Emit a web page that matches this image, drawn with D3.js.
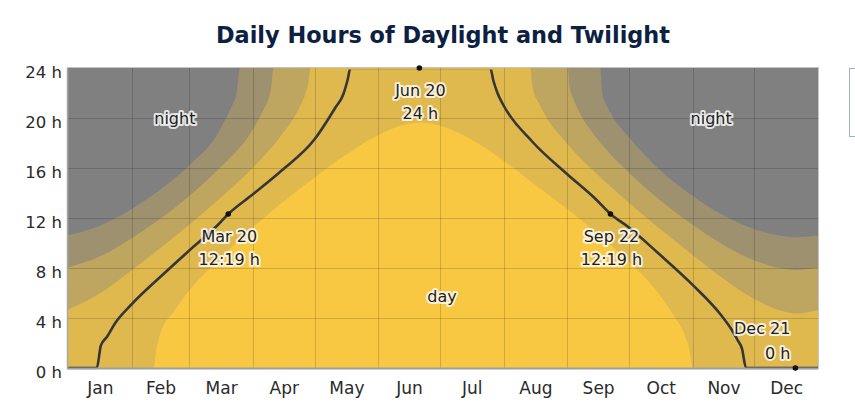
<!DOCTYPE html>
<html><head><meta charset="utf-8">
<script src="https://cdn.jsdelivr.net/npm/d3@7/dist/d3.min.js"></script>
<style>body{margin:0;background:#fff;overflow:hidden}</style>
</head><body><svg id="c" width="855" height="404"></svg>
<script>
// ---------- data (day of year 0 = Jan 1, hours) ----------
const months = ["Jan","Feb","Mar","Apr","May","Jun","Jul","Aug","Sep","Oct","Nov","Dec"];
const monthStartDays = [0,31,59,90,120,151,181,212,243,273,304,334,365];
const yTicks = [0,4,8,12,16,20,24];

// top of astronomical twilight band (sun above -18°)
const astroTop = [[0,10.62],[14,11.29],[31,12.73],[45,14.28],[59,16.21],[73,18.79],[78,20.36],[80,21.05],[82,21.95],[83.8,24],
  [259,24],[260,22.0],[262,21.05],[264,20.4],[273,18.46],[287,16.0],[304,13.77],[318,12.3],[334,11.11],[348,10.55],[354,10.46],[365,10.6]];
// top of nautical twilight band (sun above -12°)
const nauticalTop = [[0,8.05],[14,8.82],[31,10.39],[45,11.97],[59,13.77],[73,15.87],[90,19.11],[95,20.62],[98,21.78],[99,22.6],[100,24],
  [243.3,24],[244,22.6],[246,21.53],[250,20.13],[257,18.47],[273,15.63],[287,13.59],[304,11.46],[318,9.94],[334,8.61],[348,7.95],[354,7.85],[365,8.02]];
// top of civil twilight band (sun above -6°)
const civilTop = [[0,4.68],[14,5.82],[31,7.82],[45,9.6],[59,11.46],[73,13.44],[90,16.04],[104,18.66],[112,20.65],[116,22.18],[117,22.8],[118,24],
  [225,24],[226,22.55],[230,20.94],[243,17.95],[257,15.58],[273,13.23],[287,11.28],[304,9.05],[318,7.27],[334,5.53],[348,4.54],[354,4.36],[365,4.65]];
// top of full day band
const dayTop = [[0,0],[41.5,0],[43,1.5],[45,2.8],[51,4.4],[59,6.2],[73,8.6],[90,11.25],[104,13.2],[120,15.24],[134,16.92],[151,18.65],[165,19.53],[171,19.64],
  [181,19.39],[195,18.41],[212,16.59],[226,14.83],[243,12.72],[257,10.85],[273,8.5],[287,6.05],[295,4.16],[300,2.7],[302.5,1.4],[304,0],[365,0]];
// hours of daylight (black line)
const daylight = [[0,0],[14,0],[16,1.8],[19,2.5],[23,3.6],[31,5.1],[45,7.3],[59,9.4],[73,11.46],[78,12.32],[90,13.9],[104,15.8],[120,18.3],[130,20.8],[134,21.9],[136,23.0],[137.5,24],
  [205.5,24],[207,23.0],[209,22.0],[212,21.0],[226,18.1],[243,15.5],[257,13.48],[264,12.32],[273,11.24],[287,9.22],[304,6.65],[318,4.2],[323,3.06],[326,2.2],[328,1.55],[330,0],[365,0]];

// annotated points
const marks = [
  {day:78,  h:12.32, l1:"Mar 20", l2:"12:19 h", pos:"below"},
  {day:171, h:24,    l1:"Jun 20", l2:"24 h",    pos:"below"},
  {day:264, h:12.32, l1:"Sep 22", l2:"12:19 h", pos:"below"},
  {day:354, h:0,     l1:"Dec 21", l2:"0 h",     pos:"aboveLeft"}
];
const regionLabels = [
  {text:"night", day:52,  h:19.5},
  {text:"night", day:313, h:19.5},
  {text:"day",   day:182, h:5.3}
];

// ---------- layout ----------
const L=68, T=68, R=818, B=368;
const svg = d3.select("#c");
const x = d3.scaleLinear().domain([0,365]).range([L,R]);
const y = d3.scaleLinear().domain([0,24]).range([B,T]);
const FONT = "'DejaVu Sans', Verdana, sans-serif";

svg.append("text").attr("x", (L+R)/2).attr("y", 43).attr("text-anchor","middle")
  .attr("font-family", FONT).attr("font-weight","bold").attr("font-size", 22.4)
  .attr("fill","#0c2141").text("Daily Hours of Daylight and Twilight");

const defs = svg.append("defs");
defs.append("clipPath").attr("id","plotclip").append("rect")
  .attr("x",L).attr("y",T).attr("width",R-L).attr("height",B-T);
defs.append("clipPath").attr("id","lineclip").append("rect")
  .attr("x",L).attr("y",T+1.4).attr("width",R-L).attr("height",B-T);

const plot = svg.append("g").attr("clip-path","url(#plotclip)");
plot.append("rect").attr("x",L).attr("y",T).attr("width",R-L).attr("height",B-T).attr("fill","#808080");

const area = d3.area().x(d=>x(d[0])).y0(y(0)).y1(d=>y(d[1])).curve(d3.curveMonotoneX);
const bands = [
  {data:astroTop,    color:"#9d9170"},
  {data:nauticalTop, color:"#bea660"},
  {data:civilTop,    color:"#dfb84e"},
  {data:dayTop,      color:"#f9c842"}
];
bands.forEach(b => plot.append("path").attr("d", area(b.data)).attr("fill", b.color));

// grid
plot.selectAll(".hg").data(yTicks.slice(1,-1)).enter().append("line")
  .attr("x1",L).attr("x2",R).attr("y1",d=>y(d)+0.5).attr("y2",d=>y(d)+0.5)
  .attr("stroke","rgba(0,0,0,0.16)").attr("stroke-width",1);
plot.selectAll(".vg").data(monthStartDays.slice(1,-1)).enter().append("line")
  .attr("y1",T).attr("y2",B).attr("x1",d=>Math.round(x(d))+0.5).attr("x2",d=>Math.round(x(d))+0.5)
  .attr("stroke","rgba(0,0,0,0.16)").attr("stroke-width",1);

// daylight line
const line = d3.line().x(d=>x(d[0])).y(d=>y(d[1])).curve(d3.curveMonotoneX);
svg.append("g").attr("clip-path","url(#lineclip)").append("path").attr("d", line(daylight)).attr("fill","none")
  .attr("stroke","#363636").attr("stroke-width",2.6).attr("stroke-linejoin","round");

// border
svg.append("rect").attr("x",L-0.5).attr("y",T-0.5).attr("width",R-L+1).attr("height",B-T+1)
  .attr("fill","none").attr("stroke","#c4c4c4").attr("stroke-width",1);
svg.append("line").attr("x1",L-1).attr("x2",R).attr("y1",B+0.5).attr("y2",B+0.5).attr("stroke","#a0a0a0").attr("stroke-width",2);
svg.append("line").attr("x1",L-0.5).attr("x2",L-0.5).attr("y1",T).attr("y2",B+1).attr("stroke","#a8a8a8").attr("stroke-width",1.5);

// marker dots
svg.selectAll(".dot").data(marks).enter().append("circle")
  .attr("cx",d=>x(d.day)).attr("cy",d=>y(d.h)).attr("r",2.8).attr("fill","#111");

// axes
const yAxis = svg.append("g").attr("transform",`translate(${L},0)`)
  .call(d3.axisLeft(y).tickValues(yTicks).tickFormat(d=>d+" h").tickSize(0).tickPadding(6));
yAxis.select(".domain").remove();
yAxis.selectAll("text").attr("font-family",FONT).attr("font-size",16.5).attr("fill","#2a2a2a").attr("dy","0.55em");

const mids = months.map((m,i)=>(monthStartDays[i]+monthStartDays[i+1])/2);
const xAxis = svg.append("g").attr("transform",`translate(0,${B})`)
  .call(d3.axisBottom(x).tickValues(mids).tickFormat((d,i)=>months[i]).tickSize(0).tickPadding(0));
xAxis.select(".domain").remove();
xAxis.selectAll("text").attr("font-family",FONT).attr("font-size",17).attr("fill","#2a2a2a").attr("dy",null).attr("y",26);

// labels with halo
function halo(sel){
  return sel.attr("font-family",FONT).attr("font-size",16).attr("fill","#1e1e1e")
    .attr("stroke","rgba(255,255,255,0.8)").attr("stroke-width",4).attr("stroke-linejoin","round")
    .attr("paint-order","stroke");
}
marks.forEach(m=>{
  const cx = x(m.day), cy = y(m.h);
  if (m.pos==="below"){
    halo(svg.append("text").attr("x",cx+1).attr("y",cy+27.5).attr("text-anchor","middle")).text(m.l1);
    halo(svg.append("text").attr("x",cx+1).attr("y",cy+51).attr("text-anchor","middle")).text(m.l2);
  } else {
    halo(svg.append("text").attr("x",cx-5).attr("y",cy-34.5).attr("text-anchor","end")).text(m.l1);
    halo(svg.append("text").attr("x",cx-5).attr("y",cy-9.5).attr("text-anchor","end")).text(m.l2);
  }
});
regionLabels.forEach(r=>{
  halo(svg.append("text").attr("x",x(r.day)).attr("y",y(r.h)).attr("text-anchor","middle")).text(r.text);
});

// partial legend box at right edge
svg.append("rect").attr("x",849.5).attr("y",68.5).attr("width",40).attr("height",68)
  .attr("fill","#fff").attr("stroke","#a3b1c2").attr("stroke-width",1);
</script></body></html>
